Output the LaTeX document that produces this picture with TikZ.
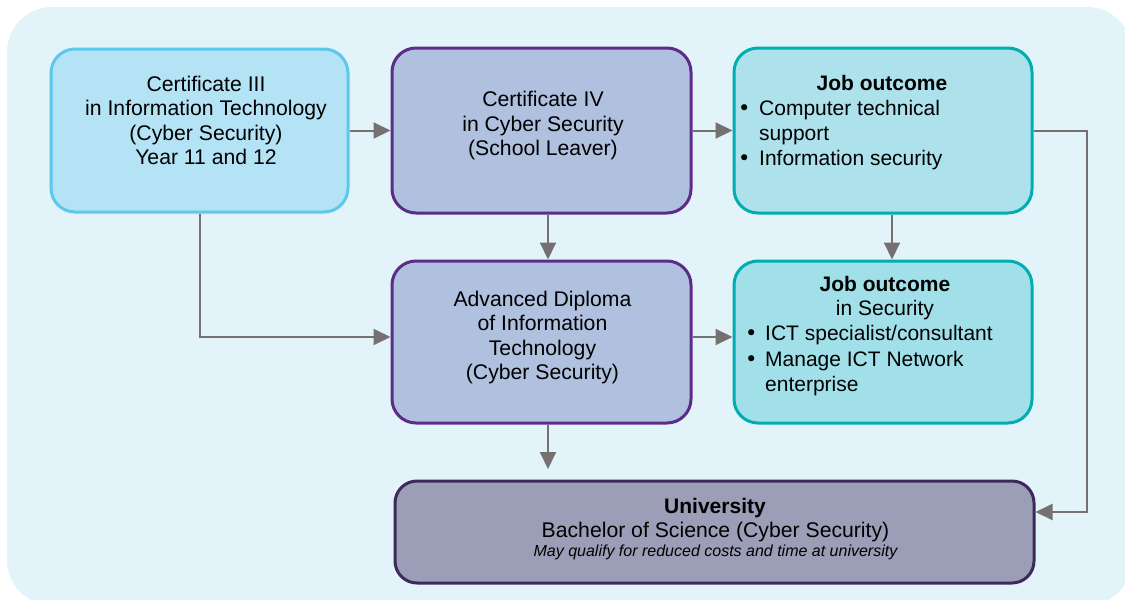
\documentclass[tikz,border=0pt]{standalone}
\usepackage{fontspec}
\setmainfont{Liberation Sans}
\newfontfamily\dejavu{DejaVu Sans}
\usetikzlibrary{arrows.meta}
\definecolor{bgblue}{HTML}{E2F3FA}
\definecolor{certfill}{HTML}{B3E3F4}
\definecolor{certdraw}{HTML}{5BC8EC}
\definecolor{purfill}{HTML}{B0C1DF}
\definecolor{purdraw}{HTML}{5C2D88}
\definecolor{jobfillA}{HTML}{ADE1EC}
\definecolor{jobfillB}{HTML}{A1DFE9}
\definecolor{jobdraw}{HTML}{00AEB0}
\definecolor{unifill}{HTML}{9B9EB6}
\definecolor{unidraw}{HTML}{3E2A5A}
\definecolor{arrowgray}{HTML}{767171}
\newcommand{\bigbul}{\makebox[14pt][c]{\dejavu •}}
\begin{document}
\begin{tikzpicture}[x=1pt,y=-1pt,
  box/.style={line width=3pt, rounded corners=24pt, inner sep=0pt, minimum width=297pt, minimum height=163pt},
  boxtext/.style={inner sep=0pt, align=center, anchor=north, font=\fontsize{21.2}{24.5}\selectfont},
  titletext/.style={inner sep=0pt, anchor=base, font=\fontsize{21}{25}\selectfont\bfseries},
  plaintext/.style={inner sep=0pt, anchor=base, font=\fontsize{21}{25}\selectfont},
  listtext/.style={inner sep=0pt, anchor=north west, font=\fontsize{21}{25.3}\selectfont},
  conn/.style={draw=arrowgray, line width=2pt, -{Triangle[length=17pt,width=16pt]}},
  line/.style={draw=arrowgray, line width=2pt}
]
\useasboundingbox (0,0) rectangle (1125,600);
\fill[bgblue, rounded corners=45pt] (7,7) rectangle (1132,605);

% boxes
\node[box, draw=certdraw, fill=certfill] (b1) at (199.5,130.5) {};
\node[box, draw=purdraw, fill=purfill, minimum width=299pt, minimum height=165pt] (b2) at (541.5,130.5) {};
\node[box, draw=jobdraw, fill=jobfillA, minimum width=298pt, minimum height=165pt] (b3) at (883,130.5) {};
\node[box, draw=purdraw, fill=purfill, minimum width=299pt, minimum height=162pt] (b4) at (541.5,342) {};
\node[box, draw=jobdraw, fill=jobfillB, minimum width=298pt, minimum height=162pt] (b5) at (883,342) {};
\node[box, draw=unidraw, fill=unifill, rounded corners=22pt, minimum width=639pt, minimum height=102pt] (b6) at (714.5,532) {};

% texts
\node[boxtext] (t1) at (206,73.9) {\strut Certificate III\\in Information Technology\\(Cyber Security)\\Year 11 and 12};
\node[boxtext] (t2) at (543,89.4) {\strut Certificate IV\\in Cyber Security\\(School Leaver)};
\node[boxtext] (t4) at (542.5,288.9) {\strut Advanced Diploma\\of Information\\Technology\\(Cyber Security)};

\node[titletext] (t3a) at (882,90) {Job outcome};
\node[listtext] (t3b) at (737,97.3) {\begin{tabular}{@{}l@{\hspace{8pt}}l@{}}\bigbul&Computer technical\\&support\\\bigbul&Information security\end{tabular}};

\node[titletext] (t5a) at (885,291.7) {Job outcome};
\node[plaintext] (t5b) at (885,315.7) {in Security};
\node[listtext] (t5c) at (744,323) {\begin{tabular}{@{}l@{\hspace{7pt}}l@{}}\bigbul&ICT specialist/consultant\\\bigbul&Manage ICT Network\\&enterprise\end{tabular}};

\node[titletext] (t6a) at (715,513.3) {University};
\node[plaintext, font=\fontsize{21.2}{24}\selectfont] (t6b) at (715.5,537.3) {Bachelor of Science (Cyber Security)};
\node[plaintext, font=\fontsize{16}{18}\selectfont\itshape] (t6c) at (715.5,556.7) {May qualify for reduced costs and time at university};

% connectors
\coordinate (a7end) at (548,469);
\coordinate (rail) at (1087,0);
\draw[conn] (b1.east) -- (b2.west);
\draw[conn] (b2.east) -- (b3.west);
\draw[conn] ([xshift=6.5pt]b2.south) -- ([xshift=6.5pt]b4.north);
\draw[conn] ([xshift=9pt]b3.south) -- ([xshift=9pt]b5.north);
\draw[conn] (b1.south) |- ([yshift=5pt]b4.west);
\draw[conn] ([yshift=5pt]b4.east) -- ([yshift=5pt]b5.west);
\draw[conn] (b4.south -| a7end) -- (a7end);
\draw[conn] (b3.east) -- (b3.east -| rail) |- ([yshift=20pt]b6.east);
\end{tikzpicture}
\end{document}
